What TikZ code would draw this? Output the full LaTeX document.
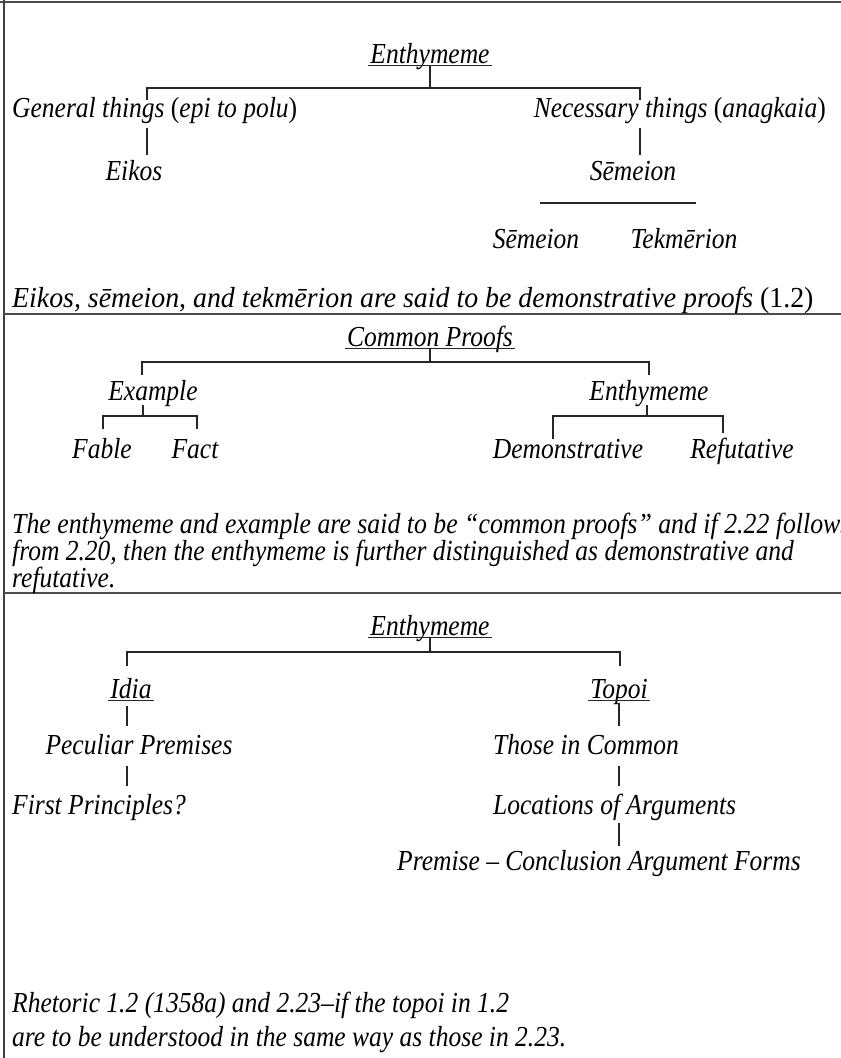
\documentclass[tikz,border=0pt]{standalone}
\usepackage{fontspec}
\setmainfont{Liberation Serif}
\newcommand{\sqz}[1]{\scalebox{0.88}[1]{#1}}
\newcommand{\sqw}[1]{\scalebox{0.96}[1]{#1}}
\begin{document}
\begin{tikzpicture}[x=1pt,y=-1pt,
  txt/.style={font=\fontsize{29}{32}\selectfont\itshape, inner sep=0pt, anchor=mid},
  ul/.style={txt, inner xsep=2pt, text depth=2pt},
  conn/.style={line width=1.2pt, black!85},
  border/.style={line width=2pt, black!70}]
\useasboundingbox (0,0) rectangle (841,1058);
% frame
\draw[border] (0,2) -- (841,2);
\draw[line width=1.5pt, black!75] (4,0) -- (4,1058);
\draw[border] (4,314) -- (841,314);
\draw[border] (4,593) -- (841,593);

% ---------- panel 1 ----------
\node[ul] (e1) at (430,61) {\sqz{Enthymeme}};
\draw[conn] (e1.south west) -- (e1.south east);
\coordinate (b1) at (430,88);
\coordinate (b1L) at (147,100);
\coordinate (b1R) at (640,100);
\draw[conn] (e1.south) -- (b1);
\draw[conn] (b1L) |- (b1) -| (b1R);
\node[txt, anchor=mid west] (gen) at (12,115) {\sqz{General things {\upshape(}epi to polu{\upshape)}}};
\node[txt, anchor=mid east] (nec) at (826,115) {\sqz{Necessary things {\upshape(}anagkaia{\upshape)}}};
\coordinate (s1a) at (147,128); \coordinate (s1b) at (147,155);
\coordinate (s2a) at (640,128); \coordinate (s2b) at (640,155);
\draw[conn] (s1a) -- (s1b);
\draw[conn] (s2a) -- (s2b);
\node[txt] (eik) at (134,178) {\sqz{Eikos}};
\node[txt] (sem) at (633,178) {\sqz{Sēmeion}};
\coordinate (l1a) at (540,203); \coordinate (l1b) at (696,203);
\draw[conn] (l1a) -- (l1b);
\node[txt] (sem2) at (536,246) {\sqz{Sēmeion}};
\node[txt] (tek) at (684,246) {\sqz{Tekmērion}};
\node[txt, anchor=mid west] (cap1) at (12,305) {\sqw{Eikos, sēmeion, and tekmērion are said to be demonstrative proofs {\upshape(1.2)}}};

% ---------- panel 2 ----------
\node[ul] (cp) at (430,344) {\sqz{Common Proofs}};
\draw[conn] (cp.south west) -- (cp.south east);
\coordinate (b2) at (430,362);
\coordinate (b2L) at (142,375);
\coordinate (b2R) at (649,375);
\draw[conn] (cp.south) -- (b2);
\draw[conn] (b2L) |- (b2) -| (b2R);
\node[txt] (ex) at (153,398) {\sqz{Example}};
\node[txt] (en2) at (649,398) {\sqz{Enthymeme}};
\coordinate (x0) at (143,405); \coordinate (x1) at (143,416);
\coordinate (xL) at (103,429); \coordinate (xR) at (197,429);
\draw[conn] (x0) -- (x1);
\draw[conn] (xL) |- (x1) -| (xR);
\coordinate (y0) at (647,405); \coordinate (y1) at (647,416);
\coordinate (yL) at (553,439); \coordinate (yR) at (723,433);
\draw[conn] (y0) -- (y1);
\draw[conn] (yL) |- (y1) -| (yR);
\node[txt] (fab) at (102,456) {\sqz{Fable}};
\node[txt] (fac) at (195,456) {\sqz{Fact}};
\node[txt] (dem) at (568,456) {\sqz{Demonstrative}};
\node[txt] (ref) at (742,456) {\sqz{Refutative}};
\node[txt, anchor=mid west] (cap2a) at (12,531) {\scalebox{0.89}[1]{The enthymeme and example are said to be “common proofs” and if 2.22 follows}};
\node[txt, anchor=mid west] (cap2b) at (12,558) {\sqz{from 2.20, then the enthymeme is further distinguished as demonstrative and}};
\node[txt, anchor=mid west] (cap2c) at (12,585) {\sqz{refutative.}};

% ---------- panel 3 ----------
\node[ul] (e3) at (430,633) {\sqz{Enthymeme}};
\draw[conn] (e3.south west) -- (e3.south east);
\coordinate (b3) at (430,652);
\coordinate (b3L) at (127,666);
\coordinate (b3R) at (620,666);
\draw[conn] (e3.south) -- (b3);
\draw[conn] (b3L) |- (b3) -| (b3R);
\node[ul] (idia) at (131,696) {\sqz{Idia}};
\draw[conn] (idia.south west) -- (idia.south east);
\node[ul] (topoi) at (619,696) {\sqz{Topoi}};
\draw[conn] (topoi.south west) -- (topoi.south east);
\coordinate (i0) at (127,706); \coordinate (i1) at (127,726);
\coordinate (i2) at (127,766); \coordinate (i3) at (127,786);
\draw[conn] (i0) -- (i1);
\draw[conn] (i2) -- (i3);
\node[txt] (pec) at (139,752) {\sqz{Peculiar Premises}};
\node[txt, anchor=mid west] (fir) at (12,812) {\sqz{First Principles?}};
\coordinate (t0) at (619,703); \coordinate (t1) at (619,726);
\coordinate (t2) at (619,766); \coordinate (t3) at (619,786);
\coordinate (t4) at (619,823); \coordinate (t5) at (619,846);
\draw[conn] (t0) -- (t1);
\draw[conn] (t2) -- (t3);
\draw[conn] (t4) -- (t5);
\node[txt, anchor=mid west] (tho) at (493,752) {\sqz{Those in Common}};
\node[txt, anchor=mid west] (loc) at (493,812) {\sqz{Locations of Arguments}};
\node[txt] (pre) at (599,868) {\sqz{Premise – Conclusion Argument Forms}};
\node[txt, anchor=mid west] (cap3a) at (12,1010) {\sqz{Rhetoric 1.2 (1358a) and 2.23–if the topoi in 1.2}};
\node[txt, anchor=mid west] (cap3b) at (12,1044) {\sqz{are to be understood in the same way as those in 2.23.}};
\end{tikzpicture}
\end{document}
